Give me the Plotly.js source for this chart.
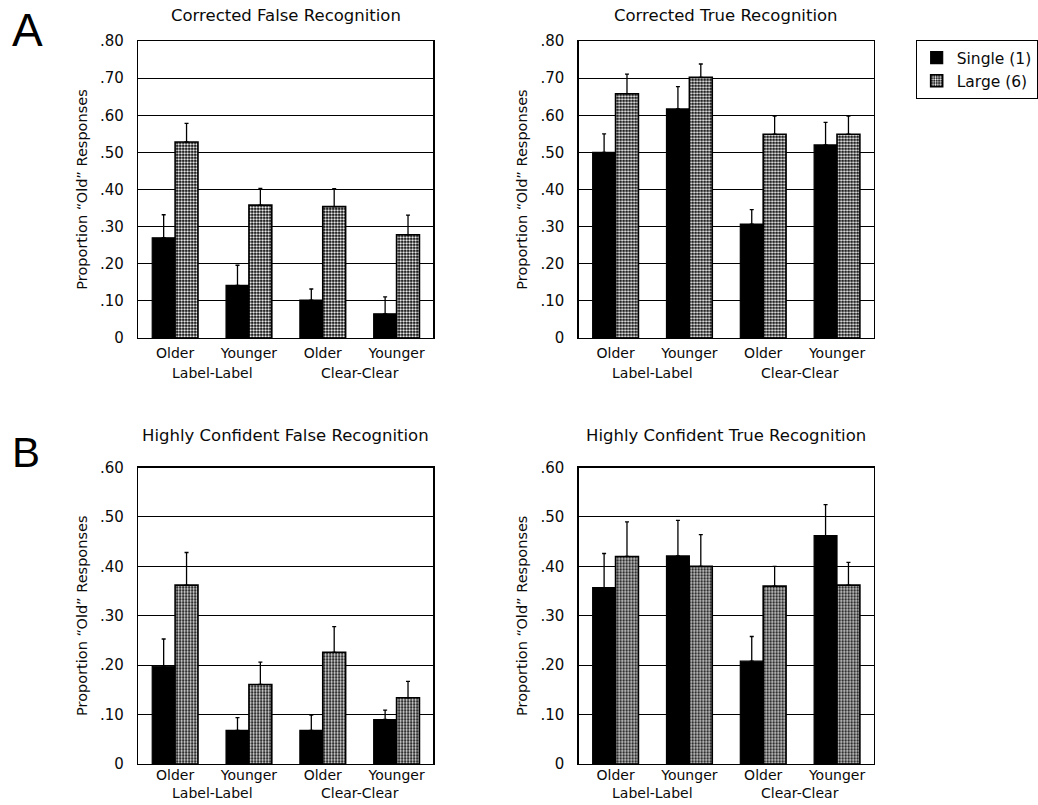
<!DOCTYPE html>
<html>
<head>
<meta charset="utf-8">
<script src="https://cdn.plot.ly/plotly-3.0.1.min.js"></script>
<style>html,body{margin:0;padding:0;background:#fff;}#chart{width:1038px;height:805px;}</style>
</head>
<body>
<div id="chart"></div>
<script>
// ---- data ----
const catPos = [0, 1, 2, 3];
const catLabels = ["Older", "Younger", "Older", "Younger"];
const groupLabels = ["Label-Label", "Clear-Clear"];
const seriesNames = ["Single (1)", "Large (6)"];

const falseSingle = [0.27, 0.142, 0.102, 0.065];
const falseSingleErr = [0.062, 0.054, 0.03, 0.046];
const falseLarge = [0.528, 0.358, 0.354, 0.278];
const falseLargeErr = [0.05, 0.045, 0.048, 0.053];

const trueSingle = [0.50, 0.617, 0.307, 0.52];
const trueSingleErr = [0.05, 0.06, 0.039, 0.061];
const trueLarge = [0.658, 0.702, 0.549, 0.549];
const trueLargeErr = [0.053, 0.036, 0.049, 0.049];

const hcFalseSingle = [0.198, 0.068, 0.068, 0.09];
const hcFalseSingleErr = [0.055, 0.026, 0.031, 0.019];
const hcFalseLarge = [0.362, 0.161, 0.226, 0.134];
const hcFalseLargeErr = [0.066, 0.045, 0.052, 0.033];

const hcTrueSingle = [0.357, 0.421, 0.208, 0.462];
const hcTrueSingleErr = [0.069, 0.072, 0.05, 0.063];
const hcTrueLarge = [0.42, 0.40, 0.36, 0.362];
const hcTrueLargeErr = [0.07, 0.064, 0.04, 0.046];

const panelTitles = ["Corrected False Recognition", "Corrected True Recognition",
                     "Highly Confident False Recognition", "Highly Confident True Recognition"];
const ticksTop = [0, 0.1, 0.2, 0.3, 0.4, 0.5, 0.6, 0.7, 0.8];
const ticksTopText = ["0", ".10", ".20", ".30", ".40", ".50", ".60", ".70", ".80"];
const ticksBot = [0, 0.1, 0.2, 0.3, 0.4, 0.5, 0.6];
const ticksBotText = ["0", ".10", ".20", ".30", ".40", ".50", ".60"];
const yTitle = "Proportion \u201cOld\u201d Responses";

// ---- build ----
const FONT = "DejaVu Sans, sans-serif";
const TXT = "#0a0a0a";
const panels = [
  {s: falseSingle, se: falseSingleErr, l: falseLarge, le: falseLargeErr},
  {s: trueSingle, se: trueSingleErr, l: trueLarge, le: trueLargeErr},
  {s: hcFalseSingle, se: hcFalseSingleErr, l: hcFalseLarge, le: hcFalseLargeErr},
  {s: hcTrueSingle, se: hcTrueSingleErr, l: hcTrueLarge, le: hcTrueLargeErr}
];
const W = 1038, H = 805;
const xd = [[139 / W, 436 / W], [582 / W, 879 / W]];
const yd = [[1 - 338 / H, 1 - 41 / H], [1 - 764 / H, 1 - 467.5 / H]];

const traces = [];
const layout = {
  width: W, height: H,
  margin: {l: 0, r: 0, t: 0, b: 0},
  paper_bgcolor: "#fff", plot_bgcolor: "#fff",
  font: {family: FONT, color: TXT, size: 14},
  barmode: "group", bargap: 0.38, bargroupgap: 0,
  showlegend: true,
  legend: {x: 921 / W, y: 1 - 40 / H, xanchor: "left", yanchor: "top",
           bordercolor: "#000", borderwidth: 1, bgcolor: "#fff",
           font: {size: 15.5, family: FONT, color: TXT}, tracegroupgap: 0, itemwidth: 30},
  annotations: []
};

panels.forEach((p, i) => {
  const idx = i + 1;
  const xa = idx === 1 ? "x" : "x" + idx;
  const ya = idx === 1 ? "y" : "y" + idx;
  const col = i % 2, row = Math.floor(i / 2);
  const errCommon = {type: "data", symmetric: false, color: "#000", thickness: 1.3, width: 2};
  traces.push({
    type: "bar", x: catPos, y: p.s, name: seriesNames[0], xaxis: xa, yaxis: ya,
    marker: {color: "#000", line: {color: "#000", width: 1.2}},
    error_y: Object.assign({array: p.se, arrayminus: p.se.map(() => 0)}, errCommon),
    showlegend: i === 0, legendgroup: "s", hoverinfo: "skip"
  });
  traces.push({
    type: "bar", x: catPos, y: p.l, name: seriesNames[1], xaxis: xa, yaxis: ya,
    marker: {color: "#000", line: {color: "#000", width: 1.6},
             pattern: {shape: ".", fgcolor: "#fff", bgcolor: "#000", size: 3, solidity: 0.45, fillmode: "replace"}},
    error_y: Object.assign({array: p.le, arrayminus: p.le.map(() => 0)}, errCommon),
    showlegend: i === 0, legendgroup: "l", hoverinfo: "skip"
  });
  const top = row === 0;
  layout["xaxis" + (idx === 1 ? "" : idx)] = {
    domain: xd[col], anchor: ya, range: [-0.5, 3.5],
    tickvals: catPos, ticktext: catLabels, ticks: "", showgrid: false, zeroline: false,
    showline: true, linecolor: "#000", linewidth: 1.3, mirror: true,
    ticklabelstandoff: top ? 2 : -2,
    tickfont: {size: 14, family: FONT, color: TXT}, fixedrange: true
  };
  layout["yaxis" + (idx === 1 ? "" : idx)] = {
    domain: yd[row], anchor: xa, range: top ? [0, 0.8] : [0, 0.6],
    tickvals: top ? ticksTop : ticksBot, ticktext: top ? ticksTopText : ticksBotText,
    ticks: "", ticklabelstandoff: 10,
    showgrid: true, gridcolor: "#000", gridwidth: 1.1, zeroline: false,
    showline: true, linecolor: "#000", linewidth: 1.3, mirror: true,
    tickfont: {size: 15, family: FONT, color: TXT},
    title: {text: yTitle, font: {size: 14.5, family: FONT, color: TXT}, standoff: 9},
    fixedrange: true
  };
  // panel title
  layout.annotations.push({
    text: panelTitles[i], xref: xa + " domain", yref: ya + " domain", x: 0.5, y: 1,
    xanchor: "center", yanchor: "middle", yshift: top ? 26 : 32, showarrow: false,
    font: {size: 16.5, family: FONT, color: TXT}
  });
  // group labels
  groupLabels.forEach((g, k) => {
    layout.annotations.push({
      text: g, xref: xa, yref: ya + " domain", x: 0.5 + 2 * k, y: 0,
      xanchor: "center", yanchor: "middle", yshift: top ? -35 : -29, showarrow: false,
      font: {size: 14, family: FONT, color: TXT}
    });
  });
});

// panel letters
layout.annotations.push({text: "A", xref: "paper", yref: "paper", x: 10 / W, y: 1 - 30 / H,
  xanchor: "left", yanchor: "middle", showarrow: false, font: {size: 46, family: "Liberation Sans, sans-serif", color: "#000"}});
layout.annotations.push({text: "B", xref: "paper", yref: "paper", x: 10 / W, y: 1 - 452 / H,
  xanchor: "left", yanchor: "middle", showarrow: false, font: {size: 42, family: "Liberation Sans, sans-serif", color: "#000"}});

Plotly.newPlot("chart", traces, layout, {displayModeBar: false, staticPlot: true});
</script>
</body>
</html>
